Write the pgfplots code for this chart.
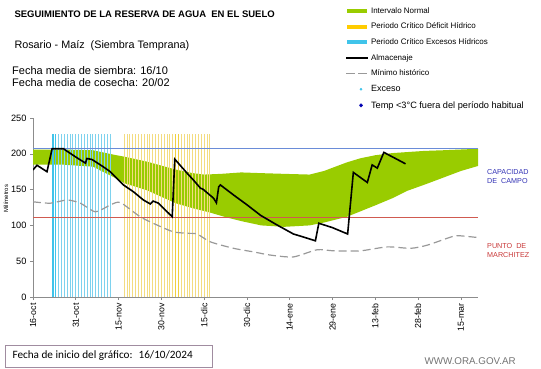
\documentclass[border=0pt]{standalone}
\usepackage{pgfplots}
\pgfplotsset{compat=1.18}
\usepgfplotslibrary{fillbetween}
\usepackage{fontspec}
\setmainfont{Liberation Sans}
\newfontfamily\carlito{Carlito}
\definecolor{bandgreen}{HTML}{99CC00}
\definecolor{cyanA}{HTML}{40C4EA}
\definecolor{cyanB}{HTML}{7ED2EE}
\definecolor{yelA}{HTML}{F0D040}
\definecolor{yelB}{HTML}{F3DC80}
\definecolor{legyel}{HTML}{FFCC00}
\definecolor{capblue}{HTML}{6A8CD8}
\definecolor{captext}{HTML}{3333B5}
\definecolor{pmpred}{HTML}{D05A50}
\definecolor{pmptext}{HTML}{C83838}
\definecolor{mingray}{HTML}{999999}
\definecolor{axgray}{HTML}{8C8C8C}
\definecolor{boxcol}{HTML}{A08CA0}
\begin{document}
\begin{tikzpicture}
\begin{axis}[
  at={(33pt,71pt)}, anchor=south west,
  scale only axis, width=445pt, height=179pt,
  xmin=0, xmax=156, ymin=0, ymax=250,
  axis lines*=left,
  axis line style={axgray, line width=0.6pt},
  tick style={axgray, line width=0.6pt},
  tick align=outside, major tick length=3pt,
  xtick={0,15,...,150},
  xticklabels={16-oct,31-oct,15-nov,30-nov,15-dic,30-dic,14-ene,29-ene,13-feb,28-feb,15-mar},
  ytick={0,50,...,250},
  /pgf/number format/assume math mode=true,
  x tick label style={rotate=90, anchor=east, font=\fontsize{8.8}{9}\selectfont},
  y tick label style={font=\fontsize{9.2}{10}\selectfont},
  ylabel={Milímetros},
  every axis y label/.style={at={([xshift=-27pt]rel axis cs:0,0.55)}, rotate=90, anchor=center, font=\fontsize{6}{7}\selectfont},
  legend cell align=left,
  legend style={at={(rel axis cs:0.694,1.632)}, anchor=north west, draw=none, fill=none,
    font=\fontsize{8}{8.5}\selectfont, row sep=7.2pt,
    nodes={inner sep=0.5pt},
    /tikz/every odd column/.append style={column sep=1.5pt}},
]
% green band
\addplot[name path=up, draw=none, forget plot] coordinates {
(0,206) (10,206) (21,205) (28,199) (32,196) (40,189) (50,178) (56,173) (60,171) (66,172) (73,174) (80,173) (88,172) (97,171) (102,176) (110,188) (115,194) (120,198) (126,201) (137,204) (144,205) (150,206) (156,207)};
\addplot[name path=lo, draw=none, forget plot] coordinates {
(0,185) (10,185) (21,182) (28,168) (32,159) (40,149) (50,131) (56,124) (62,118) (68,111) (73,106) (80,100) (88,98) (97,100) (102,104) (110,112) (115,120) (120,128) (126,138) (131,148) (138,158) (144,167) (150,176) (156,183)};
\addplot[bandgreen, forget plot] fill between[of=up and lo];
% critical periods
\addplot[ycomb, draw=cyanB, line width=1pt, forget plot] coordinates {
(9,228) (10,228) (11,228) (12,228) (13,228) (14,228) (15,228) (16,228) (17,228) (18,228) (19,228) (20,228) (21,228) (22,228) (23,228) (24,228) (25,228) (26,228) (27,228)};
\addplot[ycomb, draw=cyanA, line width=1.2pt, forget plot] coordinates {(7,228) (8,228)};
\addplot[ycomb, draw=yelB, line width=1pt, forget plot] coordinates {
(32,228) (33,228) (34,228) (35,228) (36,228) (37,228) (38,228) (39,228) (40,228) (41,228) (42,228) (43,228) (44,228) (45,228) (46,228) (47,228) (48,228) (49,228) (52,228) (53,228) (54,228) (55,228) (56,228) (57,228) (58,228) (59,228) (60,228) (61,228) (62,228)};
\addplot[ycomb, draw=yelA, line width=1.2pt, forget plot] coordinates {(50,228) (51,228)};
% capacity and wilting point
\addplot[capblue, line width=1.1pt, forget plot] coordinates {(0,207) (156,207)};
\addplot[pmpred, line width=1.1pt, forget plot] coordinates {(0,111) (156,111)};
% minimum historic
\addplot[mingray, line width=1.2pt, dash pattern=on 8pt off 4pt, smooth, tension=0.4, forget plot] coordinates {
(0,133) (6,131) (12,135.5) (16.6,131) (21.9,119) (27.1,128.5) (30.6,132) (37.6,112) (43.5,100.5) (49.2,91) (54,89) (57.5,88) (62.2,77) (70.3,68) (77.3,63) (83.3,58.5) (91.3,56) (99.6,66) (105.4,64.5) (114.8,64.5) (124.2,70) (132.4,68) (138.3,72.5) (147.5,85) (151.1,85) (156,83)};
% storage
\addplot[black, line width=1.6pt, forget plot] coordinates {
(0,177.5) (1.4,184) (4.9,175) (6.7,207) (10.7,207) (14.8,196) (18.4,187) (18.9,193.5) (20.7,192) (24.2,183) (27.1,175) (31.7,156.5) (35.2,147) (38.7,135.5) (41.1,130) (42.1,134) (44,131) (48.8,112) (49.7,192.5) (54,173) (56.2,163.5) (58.7,152) (59.6,150.5) (63.3,138) (64.3,131.5) (65.1,154) (65.7,156.5) (70.3,142.5) (75.1,128.5) (79.8,114) (85.6,100.5) (91.3,88) (93.8,85) (99,78.5) (100.2,103) (104.9,97) (110.3,88) (112.3,174) (117.2,160) (118.9,184.5) (120.7,180) (123,202) (130.6,186)};
% legend
\addlegendimage{legend image code/.code={\draw[bandgreen, line width=4pt] (1pt,0pt) -- (21pt,0pt);}}
\addlegendentry{Intervalo Normal}
\addlegendimage{legend image code/.code={\draw[legyel, line width=4pt] (1pt,0pt) -- (21pt,0pt);}}
\addlegendentry{Periodo Crítico Déficit Hídrico}
\addlegendimage{legend image code/.code={\draw[cyanA, line width=4pt] (1pt,0pt) -- (21pt,0pt);}}
\addlegendentry{Periodo Crítico Excesos Hídricos}
\addlegendimage{legend image code/.code={\draw[black, line width=1.6pt] (0pt,0pt) -- (22pt,0pt);}}
\addlegendentry{Almacenaje}
\addlegendimage{legend image code/.code={\draw[mingray, line width=1.2pt, dash pattern=on 9pt off 3pt] (0pt,0pt) -- (22pt,0pt);}}
\addlegendentry{Mínimo histórico}
\addlegendimage{legend image code/.code={\draw[white, line width=0.1pt, opacity=0] (0pt,0pt) -- (22pt,0pt); \fill[cyanA] (15pt,0pt) circle (1.1pt);}}
\addlegendentry{\fontsize{9}{10}\selectfont Exceso}
\addlegendimage{legend image code/.code={\draw[white, line width=0.1pt, opacity=0] (0pt,0pt) -- (22pt,0pt); \fill[blue!70!black] (15pt,1.8pt) -- (16.6pt,0pt) -- (15pt,-1.8pt) -- (13.4pt,0pt) -- cycle;}}
\addlegendentry{\fontsize{9.2}{10}\selectfont Temp <3°C fuera del período habitual}
\end{axis}
% texts
\node[anchor=west, font=\bfseries\fontsize{9.5}{11}\selectfont] at (11pt,354pt) {SEGUIMIENTO DE LA RESERVA DE AGUA\ \ EN EL SUELO};
\node[anchor=west, font=\fontsize{10.8}{12}\selectfont] at (11pt,322pt) {Rosario - Maíz\ \ (Siembra Temprana)};
\node[anchor=north west, align=left, font=\fontsize{11}{12.2}\selectfont, inner sep=0pt] at (12pt,302pt) {Fecha media de siembra: 16/10\\Fecha media de cosecha: 20/02};
\node[anchor=north west, align=left, text=captext, font=\fontsize{7.2}{9.5}\selectfont, inner sep=0pt] at (487pt,199pt) {CAPACIDAD\\DE\ \ CAMPO};
\node[anchor=north west, align=left, text=pmptext, font=\fontsize{7.2}{9.5}\selectfont, inner sep=0pt] at (487pt,125pt) {PUNTO\ \ DE\\MARCHITEZ};
\draw[boxcol, line width=0.8pt] (5pt,1pt) rectangle (212pt,23pt);
\node[anchor=west, font=\carlito\fontsize{11.2}{12}\selectfont] at (9pt,12pt) {Fecha de inicio del gráfico:\hspace{6pt}16/10/2024};
\node[anchor=west, text=gray!90!black, font=\fontsize{9.8}{11}\selectfont] at (421pt,7pt) {WWW.ORA.GOV.AR};
\pgfresetboundingbox
\path[use as bounding box] (0,0) rectangle (541pt,368pt);
\end{tikzpicture}
\end{document}
